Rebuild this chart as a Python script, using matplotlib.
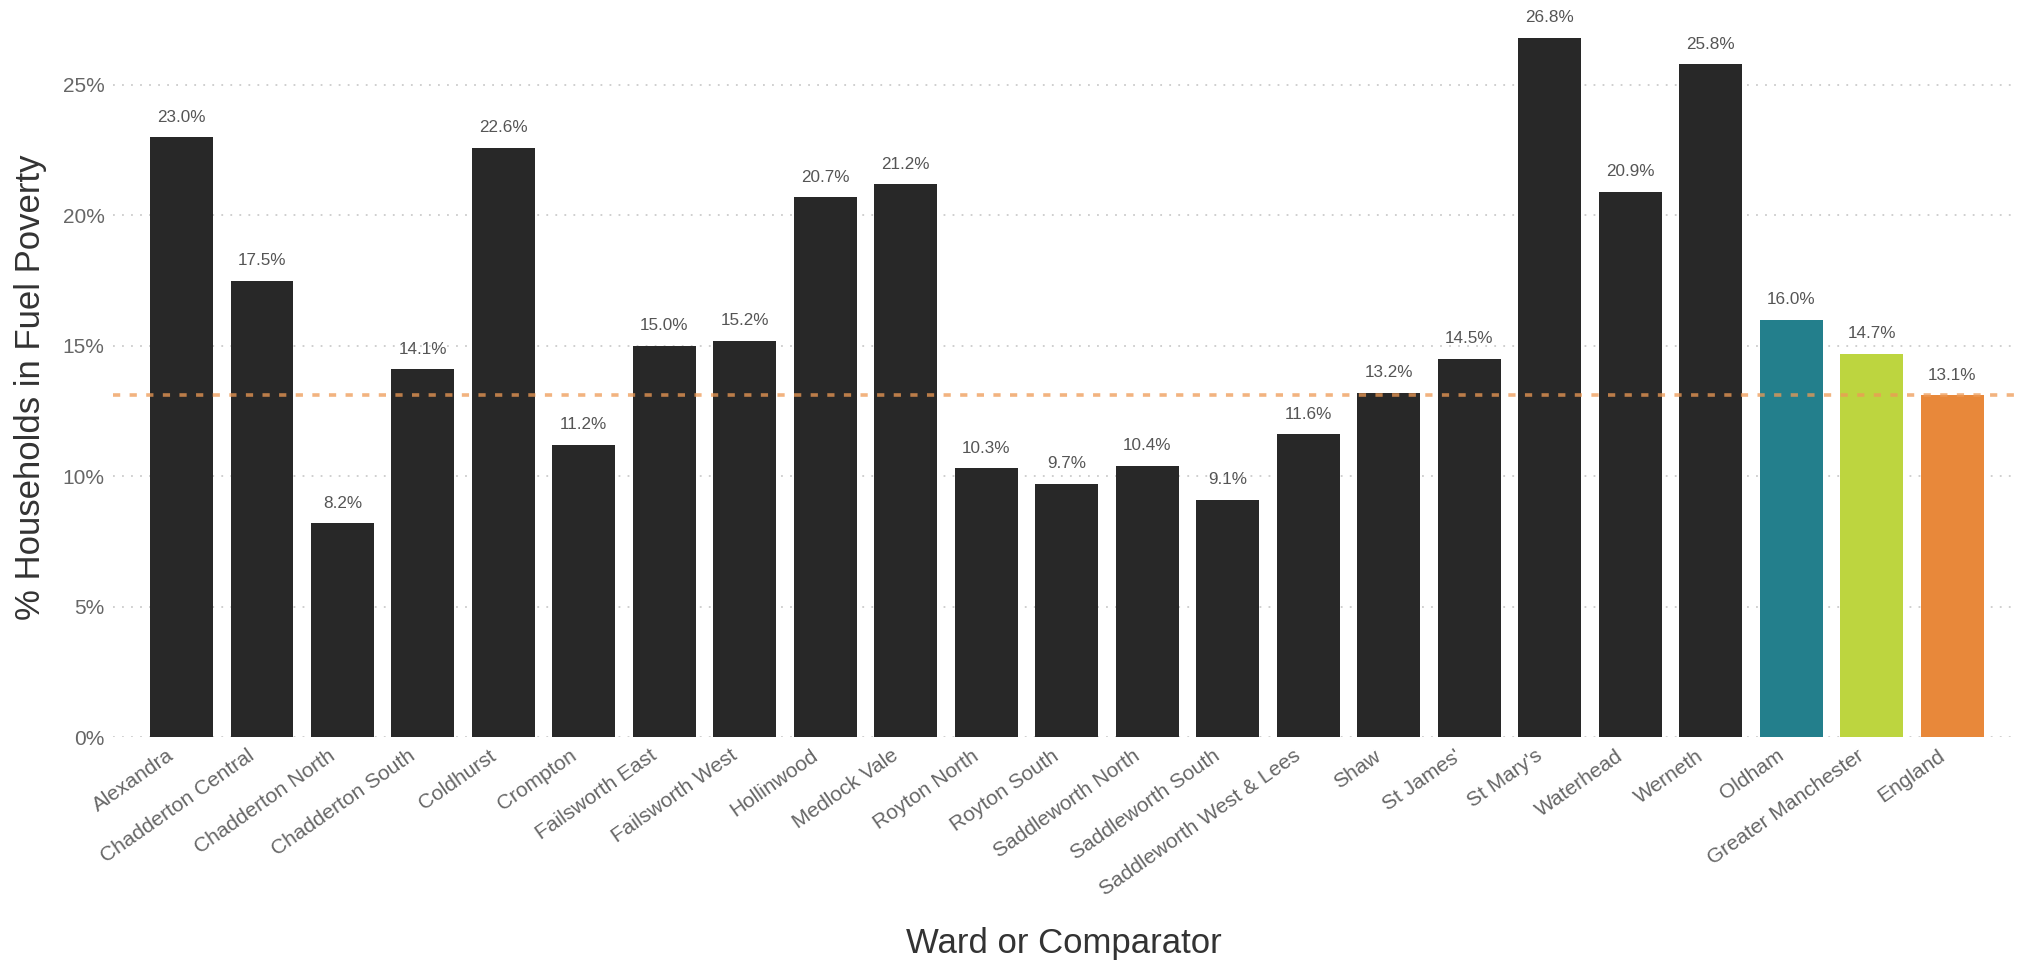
import numpy as np
import matplotlib.pyplot as plt
from matplotlib.transforms import ScaledTranslation

plt.rcParams['font.family'] = ['Liberation Sans', 'DejaVu Sans']

# Fuel poverty by ward, with borough / region / national comparators
wards = ["Alexandra", "Chadderton Central", "Chadderton North", "Chadderton South",
         "Coldhurst", "Crompton", "Failsworth East", "Failsworth West", "Hollinwood",
         "Medlock Vale", "Royton North", "Royton South", "Saddleworth North",
         "Saddleworth South", "Saddleworth West & Lees", "Shaw", "St James'",
         "St Mary's", "Waterhead", "Werneth"]
ward_values = [23.0, 17.5, 8.2, 14.1, 22.6, 11.2, 15.0, 15.2, 20.7, 21.2,
               10.3, 9.7, 10.4, 9.1, 11.6, 13.2, 14.5, 26.8, 20.9, 25.8]

comparators = ["Oldham", "Greater Manchester", "England"]
comparator_values = [16.0, 14.7, 13.1]
comparator_colours = ["#237f8c", "#bdd53f", "#e8883a"]

england_value = comparator_values[2]

labels = wards + comparators
values = ward_values + comparator_values
colours = ["#282828"] * len(wards) + comparator_colours

fig = plt.figure(figsize=(20.28, 9.63), dpi=100)
ax = fig.add_axes([113/2028, 1 - 737/963, 1902/2028, 734/963])

x = np.arange(len(labels))
bars = ax.bar(x, values, width=0.78, color=colours, zorder=2)

for xi, v in zip(x, values):
    ax.annotate(f"{v:.1f}%", (xi, v), xytext=(0, 9), textcoords="offset points",
                ha="center", va="bottom", fontsize=12.3, color="#555555")

# England average as reference line
ax.axhline(england_value, color="#ee9a55", alpha=0.75, lw=2.6,
           dashes=(2, 2.6), zorder=3)

ax.set_xlim(-0.85, len(labels) - 0.22)
ax.set_ylim(0, 28.14)
ax.set_yticks([0, 5, 10, 15, 20, 25])
ax.set_yticklabels([f"{t}%" for t in [0, 5, 10, 15, 20, 25]])
ax.set_xticks(x)
ax.set_xticklabels(labels, rotation=35, ha="right", va="top", rotation_mode="anchor")
ax.tick_params(axis="both", length=0, labelsize=15, labelcolor="#666666")
ax.tick_params(axis="x", pad=8)
ax.tick_params(axis="y", pad=6)

# nudge rotated labels so they end just left of each bar centre
shift = ScaledTranslation(-0.15, 0.02, fig.dpi_scale_trans)
for lab in ax.get_xticklabels():
    lab.set_transform(lab.get_transform() + shift)

ax.yaxis.grid(True, color="#cccccc", linestyle=(0, (1, 4)), lw=1.3, zorder=0)
ax.xaxis.grid(False)
for s in ax.spines.values():
    s.set_visible(False)

ax.set_xlabel("Ward or Comparator", fontsize=25, color="#333333")
ax.xaxis.set_label_coords(0.5, -0.281)
ax.xaxis.label.set_va("center")
ax.set_ylabel("% Households in Fuel Poverty", fontsize=25, color="#333333")
ax.yaxis.set_label_coords(-0.0436, 0.476)
ax.yaxis.label.set_va("center")

fig.savefig("out.png", dpi=100)
